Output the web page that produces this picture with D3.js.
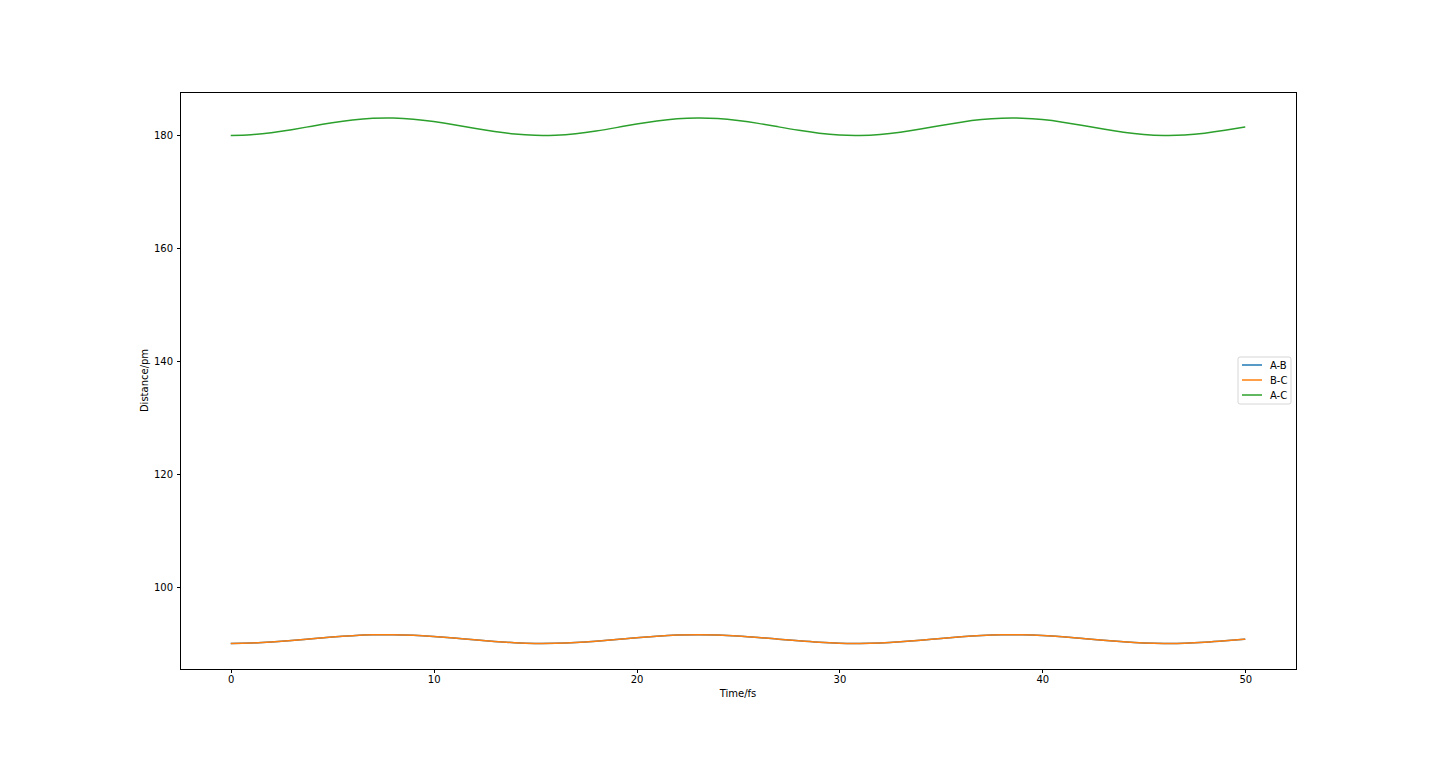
<!DOCTYPE html>
<html><head><meta charset="utf-8">
<script src="https://cdn.jsdelivr.net/npm/d3@7"></script>
<style>
html,body{margin:0;padding:0;background:#fff;}
svg{display:block;font-family:"DejaVu Sans",sans-serif;}
</style></head>
<body>
<script>
const time = d3.range(0, 51, 1);
const seriesNames = ["A-B", "B-C", "A-C"];
const seriesColors = ["#1f77b4", "#ff7f0e", "#2ca02c"];
const distAB = [90.00,90.07,90.25,90.51,90.83,91.13,91.37,91.52,91.55,91.45,91.23,90.95,90.64,90.35,90.13,90.01,90.03,90.16,90.40,90.70,91.01,91.28,91.48,91.55,91.50,91.33,91.07,90.76,90.46,90.20,90.04,90.01,90.09,90.29,90.57,90.89,91.18,91.41,91.54,91.54,91.41,91.18,90.89,90.57,90.29,90.09,90.01,90.04,90.20,90.46,90.76];
const distBC = [90.00,90.07,90.25,90.51,90.83,91.13,91.37,91.52,91.55,91.45,91.23,90.95,90.64,90.35,90.13,90.01,90.03,90.16,90.40,90.70,91.01,91.28,91.48,91.55,91.50,91.33,91.07,90.76,90.46,90.20,90.04,90.01,90.09,90.29,90.57,90.89,91.18,91.41,91.54,91.54,91.41,91.18,90.89,90.57,90.29,90.09,90.01,90.04,90.20,90.46,90.76];
const distAC = [180.00,180.13,180.49,181.02,181.65,182.25,182.74,183.04,183.09,182.89,182.46,181.90,181.27,180.69,180.25,180.02,180.05,180.32,180.79,181.39,182.02,182.56,182.95,183.10,183.00,182.65,182.14,181.52,180.91,180.40,180.08,180.01,180.18,180.58,181.14,181.77,182.36,182.82,183.07,183.07,182.82,182.36,181.77,181.14,180.58,180.18,180.01,180.08,180.40,180.91,181.52];
const xTicks = [0, 10, 20, 30, 40, 50];
const yTicks = [100, 120, 140, 160, 180];

const W = 1440, H = 765;
const m = {left: 180, right: 1296, top: 92, bottom: 669};
const svg = d3.select("body").append("svg").attr("width", W).attr("height", H);

const x = d3.scaleLinear().domain([-2.5, 52.5]).range([m.left, m.right]);
const y = d3.scaleLinear().domain([85.47, 187.7]).range([m.bottom, m.top]);

const allSeries = [distAB, distBC, distAC];
const line = d3.line().x((d, i) => x(time[i])).y(d => y(d)).curve(d3.curveNatural);

const plot = svg.append("g");
allSeries.forEach((s, k) => {
  plot.append("path").datum(s).attr("d", line)
    .attr("fill", "none").attr("stroke", seriesColors[k]).attr("stroke-width", 1.5);
});

// axes
const xAxis = svg.append("g").attr("transform", `translate(0,${m.bottom})`)
  .call(d3.axisBottom(x).tickValues(xTicks).tickFormat(d3.format("d")).tickSizeOuter(0).tickSize(3.5).tickPadding(3.5));
const yAxis = svg.append("g").attr("transform", `translate(${m.left},0)`)
  .call(d3.axisLeft(y).tickValues(yTicks).tickFormat(d3.format("d")).tickSizeOuter(0).tickSize(3.5).tickPadding(3.5));
[xAxis, yAxis].forEach(a => {
  a.select(".domain").remove();
  a.selectAll("text").attr("font-size", 10).attr("font-family", "DejaVu Sans").attr("fill", "#000");
  a.selectAll("line").attr("stroke", "#000").attr("stroke-width", 1).attr("shape-rendering", "crispEdges");
});

// frame
svg.append("rect").attr("x", m.left).attr("y", m.top)
  .attr("width", m.right - m.left).attr("height", m.bottom - m.top)
  .attr("fill", "none").attr("stroke", "#000").attr("stroke-width", 1).attr("shape-rendering", "crispEdges");

svg.append("text").attr("x", (m.left + m.right) / 2).attr("y", 697)
  .attr("text-anchor", "middle").attr("font-size", 10).text("Time/fs");
svg.append("text").attr("transform", `translate(148,${(m.top + m.bottom) / 2}) rotate(-90)`)
  .attr("text-anchor", "middle").attr("font-size", 10).text("Distance/pm");

// legend
const lg = svg.append("g").attr("transform", "translate(1238,357)");
lg.append("rect").attr("x", 0).attr("y", 0).attr("width", 53).attr("height", 47).attr("rx", 2)
  .attr("fill", "#fff").attr("fill-opacity", 0.8).attr("stroke", "#ccc").attr("stroke-width", 0.8);
seriesNames.forEach((n, k) => {
  const yy = 8 + k * 15;
  lg.append("line").attr("x1", 4).attr("x2", 24).attr("y1", yy).attr("y2", yy)
    .attr("stroke", seriesColors[k]).attr("stroke-width", 1.5);
  lg.append("text").attr("x", 32).attr("y", yy + 3.5).attr("font-size", 10).text(n);
});
</script>
</body></html>
